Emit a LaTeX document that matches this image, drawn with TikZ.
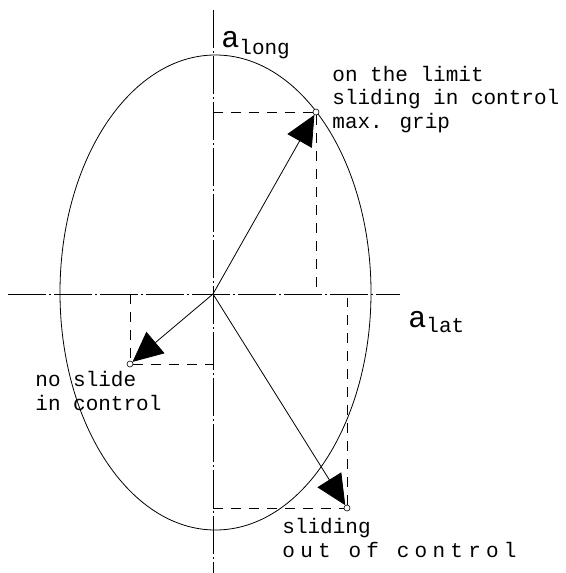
\documentclass[tikz,border=0pt]{standalone}
\usepackage{fontspec}
\newfontfamily\cadfont{Liberation Mono}
\usetikzlibrary{arrows.meta, positioning, calc}

\begin{document}
\begin{tikzpicture}[x=1pt, y=-1pt, line width=0.8pt,
    axis/.style={dash pattern=on 38pt off 3pt on 2pt off 3pt},
    proj/.style={dash pattern=on 10pt off 8pt},
    vec/.style={-{Triangle[length=30pt,width=28pt]}},
    pt/.style={circle, draw, fill=white, inner sep=0pt, minimum size=6pt, line width=0.6pt},
    lbl/.style={font=\cadfont\fontsize{21}{23.5}\selectfont, align=left, inner sep=0pt, anchor=base west}]
  \useasboundingbox (0,0) rectangle (565,573);
  % axes
  \coordinate (O) at (213,294);
  \coordinate (xl) at (8,294);
  \coordinate (xr) at (400,294);
  \coordinate (yt) at (213,10);
  \coordinate (yb) at (213,573);
  \draw[axis] (xl) -- (xr);
  \draw[axis] (yt) -- (yb);
  % friction ellipse
  \draw (215.5,292.5) ellipse [x radius=155.5, y radius=237.5];
  % points
  \node[pt] (grip) at (316,112) {};
  \node[pt] (noslide) at (130,364) {};
  \node[pt] (out) at (347,508) {};
  % projections
  \draw[proj] (O |- grip) -- (grip) -- (grip |- O);
  \draw[proj] (noslide |- O) -- (noslide) -- (O |- noslide);
  \draw[proj] (O |- out) -- (out) -- ($(out |- O)+(0,4)$);
  % vectors
  \draw[vec] (O) -- (grip);
  \draw[vec] (O) -- (noslide);
  \draw[vec] (O) -- (out);
  % labels (base = last line)
  \node[lbl] (along) at (221,47) {{\fontsize{30}{30}\selectfont a}\raisebox{-7pt}{long}};
  \node[lbl] (alat) at (408,327) {{\fontsize{30}{30}\selectfont a}\raisebox{-5pt}{lat}};
  \node[lbl] (gripl) at (332,128) {on the limit\\sliding in control\\max. grip};
  \node[lbl] (noslidel) at (35,410) {no slide\\in control};
  \node[lbl] (outl) at (282,557) {sliding\\{\addfontfeature{LetterSpace=25}out of control}};
\end{tikzpicture}
\end{document}
